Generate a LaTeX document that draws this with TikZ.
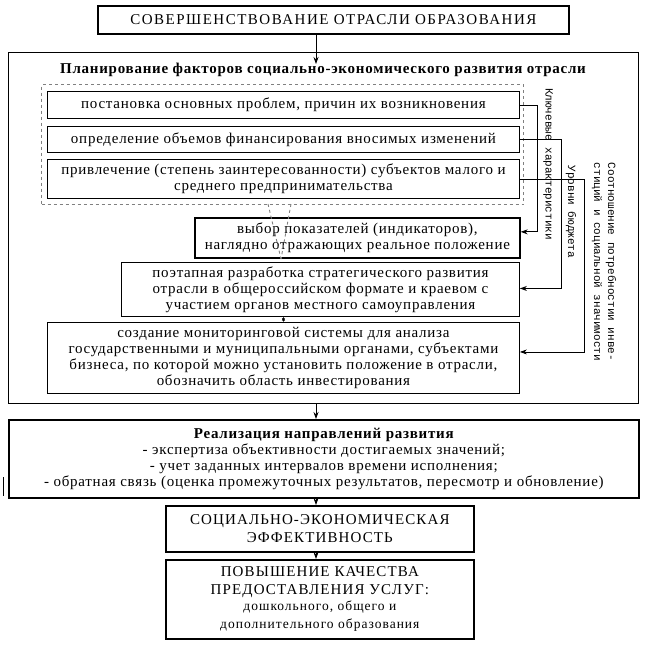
\documentclass[tikz,border=0pt]{standalone}
\usepackage{fontspec}
\setmainfont{Liberation Serif}[LetterSpace=5]
\newfontfamily\capsf{Liberation Serif}[LetterSpace=10]
\newfontfamily\capsg{Liberation Serif}[LetterSpace=7.5]
\newfontfamily\monof{Liberation Mono}
\usetikzlibrary{arrows.meta}
\newcommand\fsz{\fontsize{15}{16}\selectfont}
\newcommand\lbf{\monof\fontsize{11}{14}\selectfont}
\begin{document}
\begin{tikzpicture}[x=1pt,y=-1pt,
  box/.style={draw,line width=0.9pt,inner sep=0pt,align=center,anchor=north west,font=\fsz},
  boxthick/.style={box,line width=1.7pt},
  arr/.style={line width=0.8pt,-{Stealth[length=7pt,width=5pt]}},
  darr/.style={line width=0.8pt,{Stealth[length=4pt,width=3pt]}-{Stealth[length=4pt,width=3pt]}},
  vline/.style={draw=gray,dashed,line width=0.9pt},
  lab/.style={font=\lbf,inner sep=0pt,align=center}]
\useasboundingbox (0,0) rectangle (652,646);
% frames
\node[boxthick,minimum width=471,minimum height=28,font=\capsf\fsz] (top) at (97,5) {СОВЕРШЕНСТВОВАНИЕ ОТРАСЛИ ОБРАЗОВАНИЯ};
\node[box,minimum width=630,minimum height=351] (outer) at (8,52) {};
\node[font=\fsz\bfseries,inner sep=0pt] (title) at (323,70) {Планирование факторов социально-экономического развития отрасли};
\node[draw=gray,dashed,line width=1.3pt,inner sep=0pt,anchor=north west,minimum width=482,minimum height=120] (grp) at (41,84) {};
\node[box,minimum width=472,minimum height=27] (b1) at (47,91) {постановка основных проблем, причин их возникновения};
\node[box,minimum width=472,minimum height=26] (b2) at (47,126) {определение объемов финансирования вносимых изменений};
\node[box,minimum width=472,minimum height=39] (b3) at (47,159) {привлечение (степень заинтересованности) субъектов малого и\\среднего предпринимательства};
\node[boxthick,minimum width=325,minimum height=40] (b4) at (194,217) {выбор показателей (индикаторов),\\наглядно отражающих реальное положение};
\node[box,minimum width=398,minimum height=54] (b5) at (121,262) {поэтапная разработка стратегического развития\\отрасли в общероссийском формате и краевом с\\участием органов местного самоуправления};
\node[box,minimum width=472,minimum height=71] (b6) at (47,322) {создание мониторинговой системы для анализа\\государственными и муниципальными органами, субъектами\\бизнеса, по которой можно установить положение в отрасли,\\обозначить область инвестирования};
\node[boxthick,minimum width=630,minimum height=78] (real) at (8,419) {{\bfseries Реализация направлений развития}\\- экспертиза объективности достигаемых значений;\\- учет заданных интервалов времени исполнения;\\- обратная связь (оценка промежуточных результатов, пересмотр и обновление)};
\node[boxthick,minimum width=308,minimum height=46,font=\capsg\fontsize{15}{18}\selectfont] (se) at (165,505) {СОЦИАЛЬНО-ЭКОНОМИЧЕСКАЯ\\ЭФФЕКТИВНОСТЬ};
\node[boxthick,minimum width=308,minimum height=79,font=\capsg\fontsize{15}{18}\selectfont] (fin) at (165,559) {ПОВЫШЕНИЕ КАЧЕСТВА\\ПРЕДОСТАВЛЕНИЯ УСЛУГ:\\[-2pt]{\fontsize{13.5}{15}\selectfont дошкольного, общего и}\\{\fontsize{13.5}{15}\selectfont дополнительного образования}};
% side labels
\node[lab,rotate=-90] (l1) at (548,164) {Ключевые характеристики};
\node[lab,rotate=-90] (l2) at (571,212) {Уровни бюджета};
\node[lab,rotate=-90] (l3) at (604,262) {Соотношение потребностии инве-\\стиций и социальной значимости};
% main arrows
\coordinate (ax) at (316,0);
\coordinate (t1) at (316,64);
\draw[arr] (top.south -| ax) -- (t1);
\draw[arr] (outer.south -| ax) -- (real.north -| ax);
\draw[arr] (real.south -| ax) -- (se.north -| ax);
\draw[arr] (se.south -| ax) -- (fin.north -| ax);
% inner
\draw[darr] (b6.north |- b5.south) -- (b6.north);
\coordinate (v1) at (268,204);
\coordinate (v2) at (291,204);
\coordinate (vt) at (281,259);
\draw[vline] (v1) -- (vt);
\draw[vline] (v2) -- (vt);
% right connectors
\draw[arr] (b1.east) -- ++(17,0) |- ([yshift=6pt]b4.east);
\draw[arr] (b2.east) -- ++(41,0) |- ([yshift=1pt]b5.east);
\draw[arr] (b3.east) -- ++(64,0) |- ([yshift=6pt]b6.east);
% stray mark
\coordinate (s1) at (3,477);
\coordinate (s2) at (3,496);
\draw[line width=0.9pt] (s1) -- (s2);
\end{tikzpicture}
\end{document}
